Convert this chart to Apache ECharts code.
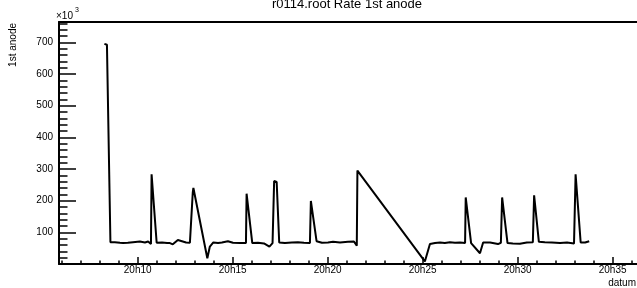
<!DOCTYPE html>
<html>
	<head>
		<title>r0114.root Rate 1st anode</title>
		<meta http-equiv="content-type" content="text/html; charset=UTF-8">
		<script src="https://cdn.jsdelivr.net/npm/echarts@6/dist/echarts.min.js"></script>
		<style>
			html {height: 100%; width: 100%;}
			body {height: 100%; width: 100%; margin:0px; background:#fff;}
		</style>
		<script>
			// readout times (hh:mm:ss) and rate of the 1st anode, in units of 10^3
			const times = ["20:08:15","20:08:23","20:08:34","20:08:48","20:09:04","20:09:14","20:09:29","20:09:45","20:10:07","20:10:23",
				"20:10:33","20:10:42","20:10:44","20:10:49","20:11:00","20:11:17","20:11:33","20:11:42","20:11:51","20:12:07",
				"20:12:20","20:12:33","20:12:45","20:12:51","20:12:54","20:12:56","20:13:40","20:13:48","20:13:59","20:14:14",
				"20:14:26","20:14:45","20:15:01","20:15:23","20:15:42","20:15:44","20:15:50","20:16:02","20:16:20","20:16:39",
				"20:16:56","20:17:06","20:17:11","20:17:19","20:17:27","20:17:45","20:18:07","20:18:26","20:18:45","20:19:04",
				"20:19:07","20:19:13","20:19:25","20:19:42","20:20:01","20:20:17","20:20:39","20:21:04","20:21:23","20:21:32",
				"20:21:34","20:25:07","20:25:23","20:25:39","20:25:55","20:26:10","20:26:26","20:26:42","20:26:58","20:27:14",
				"20:27:16","20:27:22","20:27:33","20:27:39","20:28:01","20:28:11","20:28:33","20:28:58","20:29:07","20:29:11",
				"20:29:17","20:29:28","20:29:45","20:30:07","20:30:29","20:30:48","20:30:52","20:30:58","20:31:07","20:31:26",
				"20:31:48","20:32:14","20:32:36","20:32:58","20:33:03","20:33:08","20:33:19","20:33:33","20:33:46"];
			const rate = [695,692,69,69,67,66,67,69,71,68,
				71,63,283,281,67,68,66,66,62,76,
				72,68,67,66,225,240,18,55,68,66,
				68,72,67,66,66,222,220,66,67,65,
				55,66,262,259,68,66,68,69,67,66,
				199,196,72,67,68,70,68,70,71,58,
				295,8,63,66,68,66,69,67,68,66,
				210,210,66,62,34,68,68,63,67,210,
				208,66,65,64,68,69,217,215,70,69,
				68,66,68,65,283,280,68,68,72];
			const xTicks = ["20:10","20:15","20:20","20:25","20:30","20:35"];
			const yTicks = [100,200,300,400,500,600,700];

			const FONT = "'Liberation Sans', Arial, sans-serif";
			// seconds after 20h00
			function toSec(s){
				const p = s.split(":").map(Number);
				return (p[0]-20)*3600 + p[1]*60 + (p[2]||0);
			}
			const xMin = 351.6, xMax = 2176.9;
			const yMin = 0, yMax = 764;

			function onload(){
				const chart = echarts.init(document.getElementById("container"), null, {renderer:"canvas"});
				const data = times.map((t,i) => [toSec(t), rate[i]]);
				const xMajor = xTicks.map(toSec);
				const xMinor = [];
				for (let s = 360; s < xMax; s += 60) xMinor.push(s);
				const yMinor = [];
				for (let v = 20; v < yMax; v += 20) yMinor.push(v);

				const box = {left:59, top:22, right:0, bottom:24, outerBoundsMode:"none"};
				const tickStyle = {color:"#000", width:1.5};
				const frame = {show:true, onZero:false, lineStyle:{color:"#000", width:2}};
				const option = {
					animation: false,
					grid: [
						Object.assign({show:false}, box),
						Object.assign({show:false}, box)
					],
					xAxis: [
						{type:"value", gridIndex:0, position:"bottom", min:xMin, max:xMax, axisLine:frame, splitLine:{show:false},
							axisTick:{inside:true, length:7, customValues:xMajor, lineStyle:tickStyle},
							axisLabel:{customValues:xMajor, margin:1, fontSize:10, fontFamily:FONT, color:"#000",
								formatter: v => "20h" + String(Math.round(v/60)).padStart(2,"0")}},
						// minor ticks, drawn on a twin grid
						{type:"value", gridIndex:1, position:"bottom", min:xMin, max:xMax, axisLine:{show:false}, splitLine:{show:false},
							axisTick:{inside:true, length:3.5, customValues:xMinor, lineStyle:tickStyle},
							axisLabel:{show:false}},
						// top frame line
						{type:"value", gridIndex:1, position:"top", min:xMin, max:xMax, axisLine:frame, splitLine:{show:false},
							axisTick:{show:false}, axisLabel:{show:false}}
					],
					yAxis: [
						{type:"value", gridIndex:0, position:"left", min:yMin, max:yMax, axisLine:frame, splitLine:{show:false},
							axisTick:{inside:true, length:17, customValues:yTicks, lineStyle:tickStyle},
							axisLabel:{customValues:yTicks, margin:6, fontSize:10, fontFamily:FONT, color:"#000"}},
						{type:"value", gridIndex:1, position:"left", min:yMin, max:yMax, axisLine:{show:false}, splitLine:{show:false},
							axisTick:{inside:true, length:8.5, customValues:yMinor, lineStyle:tickStyle},
							axisLabel:{show:false}}
					],
					graphic: [
						{type:"text", x:347, y:4, style:{text:"r0114.root Rate 1st anode", fontSize:13, fontFamily:FONT, fill:"#000", align:"center", verticalAlign:"middle"}},
						{type:"text", x:13, y:23, rotation:Math.PI/2, style:{text:"1st anode", fontSize:10, fontFamily:FONT, fill:"#000", align:"right", verticalAlign:"middle"}},
						{type:"text", x:636, y:283, style:{text:"datum", fontSize:10, fontFamily:FONT, fill:"#000", align:"right", verticalAlign:"middle"}},
						{type:"text", x:56, y:16, style:{text:"\u00d710", fontSize:10, fontFamily:FONT, fill:"#000", align:"left", verticalAlign:"middle"}},
						{type:"text", x:75, y:10, style:{text:"3", fontSize:7, fontFamily:FONT, fill:"#000", align:"left", verticalAlign:"middle"}}
					],
					series: [
						{type:"line", xAxisIndex:0, yAxisIndex:0, data:data, showSymbol:false, symbol:"none",
							lineStyle:{color:"#000", width:2}, clip:true}
					]
				};
				chart.setOption(option);
			}
		</script>
	</head>
	<body onload="onload()">
		<div id="container" style="width:637px;height:288px;"></div>
	</body>
</html>
